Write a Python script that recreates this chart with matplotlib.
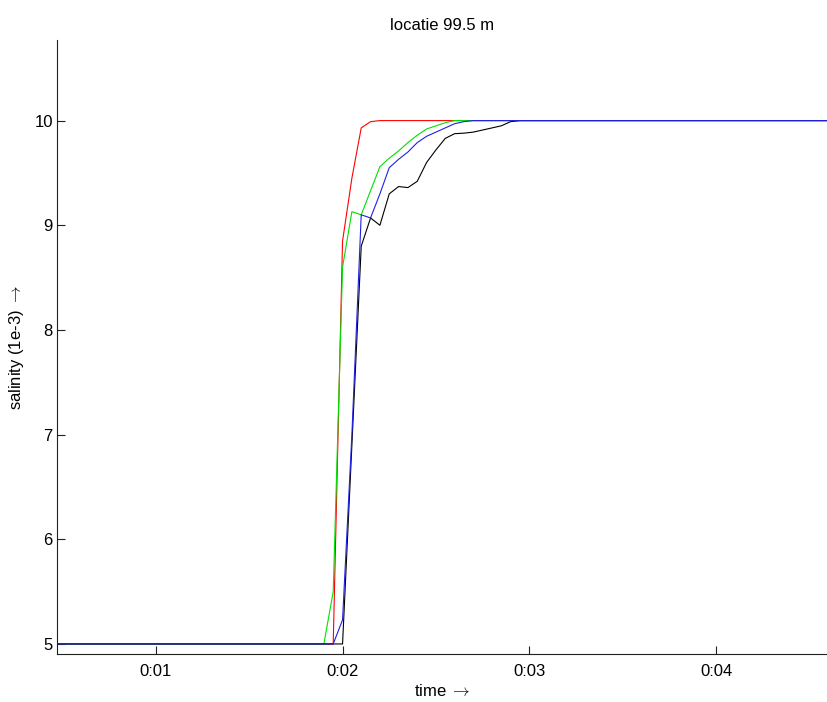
import matplotlib
matplotlib.use("Agg")
import matplotlib.pyplot as plt

plt.rcParams['font.family'] = ['Liberation Sans', 'DejaVu Sans']
plt.rcParams['mathtext.fontset'] = 'cm'

# time in minutes, salinity in 1e-3
t_red = [0.0, 1.95, 2.00, 2.05, 2.10, 2.15, 2.20, 5.0]
s_red = [5.0, 5.00, 8.85, 9.45, 9.93, 9.99, 10.0, 10.0]

t_green = [0.0, 1.90, 1.95, 2.00, 2.05, 2.10, 2.15, 2.20, 2.25, 2.30, 2.35,
           2.40, 2.45, 2.50, 2.55, 2.60, 5.0]
s_green = [5.0, 5.00, 5.50, 8.60, 9.13, 9.10, 9.33, 9.56, 9.64, 9.71, 9.79,
           9.86, 9.92, 9.95, 9.98, 10.0, 10.0]

t_black = [0.0, 2.00, 2.05, 2.10, 2.15, 2.20, 2.25, 2.30, 2.35, 2.40, 2.45,
           2.50, 2.55, 2.60, 2.65, 2.70, 2.75, 2.80, 2.85, 2.90, 2.95, 5.0]
s_black = [5.0, 5.00, 6.90, 8.80, 9.07, 9.00, 9.30, 9.37, 9.36, 9.42, 9.60,
           9.72, 9.83, 9.875, 9.88, 9.89, 9.91, 9.93, 9.95, 9.99, 10.0, 10.0]

t_blue = [0.0, 1.95, 2.00, 2.05, 2.10, 2.15, 2.20, 2.25, 2.30, 2.35, 2.40,
          2.45, 2.50, 2.55, 2.60, 2.65, 2.70, 5.0]
s_blue = [5.0, 5.00, 5.23, 7.00, 9.10, 9.07, 9.30, 9.55, 9.63, 9.70, 9.79,
          9.85, 9.89, 9.93, 9.97, 9.99, 10.0, 10.0]

x_ticks = [1, 2, 3, 4]
x_tick_labels = ['0:01', '0:02', '0:03', '0:04']
y_ticks = [5, 6, 7, 8, 9, 10]

fig = plt.figure(figsize=(8.27, 7.02), dpi=100)
ax = fig.add_axes([57 / 827, 1 - 654 / 702, 1 - 57 / 827, (654 - 40) / 702])

lw = 0.8
ax.plot(t_red, s_red, color='#ff0000', lw=lw)
ax.plot(t_green, s_green, color='#00e000', lw=lw)
ax.plot(t_black, s_black, color='#000000', lw=lw)
ax.plot(t_blue, s_blue, color='#2020e0', lw=lw)

ax.set_xlim(0.471, 4.594)
ax.set_ylim(4.904, 10.77)

ax.set_xticks(x_ticks)
ax.set_xticklabels(x_tick_labels)
ax.set_yticks(y_ticks)
ax.set_yticklabels([str(v) for v in y_ticks])

for side in ('top', 'right'):
    ax.spines[side].set_visible(False)
for side in ('left', 'bottom'):
    ax.spines[side].set_linewidth(0.8)
    ax.spines[side].set_color('#202020')

ax.tick_params(direction='in', length=6, width=0.8, colors='#202020',
               labelcolor='black', labelsize=12)
ax.tick_params(axis='x', pad=7)
ax.tick_params(axis='y', pad=3)

ax.set_title('locatie 99.5 m', fontsize=12, pad=7)
ax.set_xlabel(r'time $\rightarrow$', fontsize=12, labelpad=3)
ax.set_ylabel(r'salinity (1e-3) $\rightarrow$', fontsize=12, labelpad=6)

fig.savefig('out.png', dpi=100)
